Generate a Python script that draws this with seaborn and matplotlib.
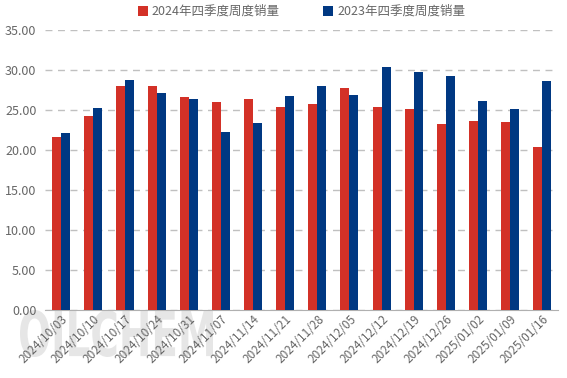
import numpy as np
import pandas as pd
import matplotlib
matplotlib.use("Agg")
from matplotlib import pyplot as plt
from matplotlib.textpath import TextPath
from matplotlib.patches import PathPatch
from matplotlib.font_manager import FontProperties
from matplotlib.transforms import Affine2D
import seaborn as sns

weeks = ["2024/10/03", "2024/10/10", "2024/10/17", "2024/10/24", "2024/10/31",
         "2024/11/07", "2024/11/14", "2024/11/21", "2024/11/28", "2024/12/05",
         "2024/12/12", "2024/12/19", "2024/12/26", "2025/01/02", "2025/01/09",
         "2025/01/16"]
sales_2024 = [21.6, 24.25, 28.0, 28.0, 26.6, 26.0, 26.4, 25.4,
              25.75, 27.75, 25.4, 25.1, 23.25, 23.6, 23.5, 20.4]
sales_2023 = [22.1, 25.25, 28.75, 27.1, 26.4, 22.25, 23.4, 26.75,
              28.0, 26.9, 30.4, 29.75, 29.25, 26.1, 25.1, 28.6]
series = ["2024年四季度周度销量", "2023年四季度周度销量"]

df = pd.DataFrame({"week": weeks * 2,
                   "value": sales_2024 + sales_2023,
                   "series": [series[0]] * len(weeks) + [series[1]] * len(weeks)})

sns.set_style("white")
plt.rcParams['font.family'] = ['Noto Sans CJK SC', 'DejaVu Sans']

fig = plt.figure(figsize=(5.67, 3.78), dpi=100)
ax = fig.add_axes([0.079, 0.18, 0.905, 0.741])
ax.patch.set_alpha(0)

# watermark: tall narrow letters, stretched into a pixel box at the bottom left
tp = TextPath((0, 0), "OILCHEM", size=10, prop=FontProperties(family="DejaVu Sans", weight="bold"))
ext = tp.get_extents()
x0, y0, w, h = 20, 21, 193, 47
tr = (Affine2D().translate(-ext.x0, -ext.y0)
      .scale(w / ext.width, h / ext.height).translate(x0, y0))
fig.patches.append(PathPatch(tp, transform=tr, facecolor="#d6d6d6", edgecolor="none",
                             alpha=0.6, zorder=-1, figure=fig))

sns.barplot(data=df, x="week", y="value", hue="series", width=0.56,
            palette=["#D33127", "#003882"], saturation=1, linewidth=0,
            ax=ax, zorder=3)

ax.set_ylim(0, 35)
ax.set_yticks(np.arange(0, 35.1, 5))
ax.set_yticklabels(["{:.2f}".format(v) for v in np.arange(0, 35.1, 5)])
ax.set_xlim(-0.5, len(weeks) - 0.5)
ax.yaxis.grid(True, linestyle=(0, (5, 4)), color="#c0c0c0", linewidth=1)
ax.set_axisbelow(True)
for s in ["top", "right", "left"]:
    ax.spines[s].set_visible(False)
ax.spines["bottom"].set_color("#b0b0b0")
ax.set_xlabel("")
ax.set_ylabel("")

ax.tick_params(axis="y", length=0, labelsize=9, labelcolor="#666666", pad=6)
ax.tick_params(axis="x", which="major", length=0, labelsize=8.5, labelcolor="#666666", pad=2)
ax.set_xticks(np.arange(-0.5, len(weeks), 1), minor=True)
ax.tick_params(axis="x", which="minor", length=5, color="#b0b0b0")
plt.setp(ax.get_xticklabels(), rotation=45, ha="right", rotation_mode="anchor")

leg = ax.legend(loc="center", bbox_to_anchor=(0.5, 1.065), ncol=2, frameon=False,
                fontsize=9, handlelength=0.8, handleheight=0.8, handletextpad=0.3,
                columnspacing=3.5, labelcolor="#666666")

plt.savefig("out.png", dpi=100)
plt.close()
